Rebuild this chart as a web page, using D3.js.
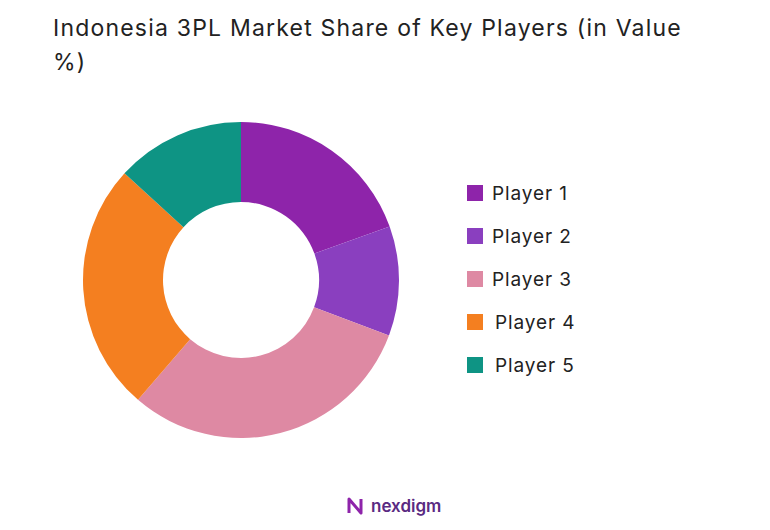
<!DOCTYPE html>
<html>
<head>
<meta charset="utf-8">
<script src="https://cdn.jsdelivr.net/npm/d3@7"></script>
<style>
  body { margin: 0; background: #fff; font-family: Inter, "Noto Sans", sans-serif; }
</style>
</head>
<body>
<div id="chart"></div>
<script>
var players = ['Player 1', 'Player 2', 'Player 3', 'Player 4', 'Player 5'];
var shares = [19.5, 11.2, 30.6, 25.5, 13.2];
var colors = ['#8E24AA', '#8A3FBF', '#DE89A3', '#F47F20', '#0E9484'];

var width = 770, height = 530;
var cx = 241, cy = 280, outerR = 158, innerR = 78;

var svg = d3.select('#chart').append('svg')
    .attr('width', width)
    .attr('height', height);

svg.append('text')
    .attr('x', 53).attr('y', 36)
    .attr('font-size', 23).attr('letter-spacing', 1.2).attr('fill', '#222')
    .text('Indonesia 3PL Market Share of Key Players (in Value');
svg.append('text')
    .attr('x', 53).attr('y', 70)
    .attr('font-size', 23).attr('letter-spacing', 1.2).attr('fill', '#222')
    .text('%)');

var pie = d3.pie().sort(null).value(d => d);
var arc = d3.arc().innerRadius(innerR).outerRadius(outerR);

svg.append('g')
    .attr('transform', `translate(${cx},${cy})`)
    .selectAll('path')
    .data(pie(shares))
    .enter()
    .append('path')
    .attr('d', arc)
    .attr('fill', (d, i) => colors[i]);

var legend = svg.append('g').attr('transform', 'translate(467,185)');
var row = legend.selectAll('g').data(players).enter().append('g')
    .attr('transform', (d, i) => `translate(0,${i * 43})`);
row.append('rect').attr('width', 16).attr('height', 16)
    .attr('fill', (d, i) => colors[i]);
row.append('text')
    .attr('x', (d, i) => i >= 3 ? 28 : 25).attr('y', 15)
    .attr('font-size', 19).attr('letter-spacing', 0.9).attr('fill', '#222')
    .text(d => d);

// footer logo
var logo = svg.append('g').attr('transform', 'translate(347,497)');
logo.append('path')
    .attr('d', 'M2,16 L2,2 L14,16 L14,2')
    .attr('fill', 'none').attr('stroke', '#8E24AA')
    .attr('stroke-width', 3).attr('stroke-linejoin', 'round');
logo.append('text')
    .attr('x', 24).attr('y', 15)
    .attr('font-size', 17).attr('font-weight', 600).attr('fill', '#5a2a82')
    .text('nexdigm');
</script>
</body>
</html>
